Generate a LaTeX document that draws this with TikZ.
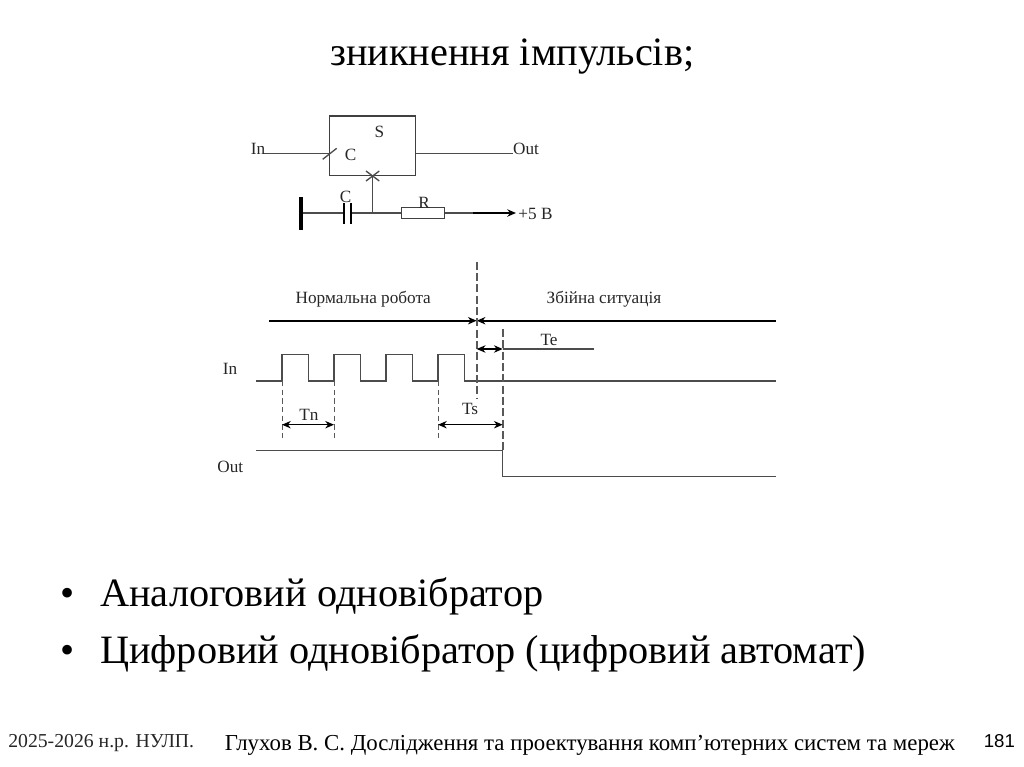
\documentclass[tikz,border=0pt]{standalone}
\usepackage{fontspec}
\usetikzlibrary{arrows.meta}
\setmainfont{Liberation Serif}
\newfontfamily\numfont{Liberation Sans}
\tikzset{
  head/.tip={Stealth[length=6.5pt,width=5.5pt,inset=2pt]},
  wire/.style={draw=black!70, line width=1pt},
  heavy/.style={draw=black, line width=1.4pt},
  guide/.style={draw=black!65, line width=1.2pt, dash pattern=on 6pt off 2.5pt},
  span/.style={draw=black, line width=1.1pt, head-head},
  lbl/.style={inner sep=0pt, font=\fontsize{12.9pt}{14pt}\selectfont, text=black!85},
  big/.style={inner sep=0pt, anchor=base west, font=\fontsize{30.2pt}{33pt}\selectfont},
  foot/.style={inner sep=0pt, anchor=base west, font=\fontsize{17.13pt}{19pt}\selectfont}
}
\begin{document}
\begin{tikzpicture}[x=0.75pt,y=-0.75pt]
  \useasboundingbox (0,0) rectangle (1024,767);
  % slide text
  \node[big] (title) at (330,65.5) {зникнення імпульсів;};
  \node[big] (b1) at (60,606) {•};
  \node[big] (item1) at (100,606) {Аналоговий одновібратор};
  \node[big] (b2) at (60,663.5) {•};
  \node[big] (item2) at (100,663.5) {Цифровий одновібратор (цифровий автомат)};
  \node[foot, font=\fontsize{14.8pt}{16pt}\selectfont, text=black!85] (year) at (8,747) {2025-2026 н.р. НУЛП.};
  \node[foot] (course) at (224.5,750) {Глухов В. С. Дослідження та проектування комп’ютерних систем та мереж};
  \node[foot, font=\numfont\fontsize{14pt}{16pt}\selectfont] (page) at (983.5,747) {181};
  % circuit
  \node[draw=black!75, line width=1pt, minimum width=64.65pt, minimum height=44.5pt, inner sep=0pt] (S) at (372.7,145.7) {};
  \node[draw=black!75, line width=0.8pt, minimum width=32pt, minimum height=8pt, inner sep=0pt] (R) at (422.8,213) {};
  \draw
    (263,153.7) coordinate (inA)
    (329.5,153.7) coordinate (inB)
    (415.7,153.7) coordinate (outA)
    (513,153.7) coordinate (outB)
    (322.7,159.3) coordinate (tickA)
    (336.7,148.3) coordinate (tickB)
    (366,171) coordinate (xA)
    (379.3,181) coordinate (xB)
    (379.3,171) coordinate (xC)
    (366,181) coordinate (xD)
    (372.7,175.3) coordinate (setpin)
    (372.7,213) coordinate (junction)
    (301,213) coordinate (gnd)
    (301,197.3) coordinate (gndA)
    (301,230) coordinate (gndB)
    (343.7,213) coordinate (capL)
    (351,213) coordinate (capR)
    (343.7,203) coordinate (capLa)
    (343.7,224.3) coordinate (capLb)
    (351,203) coordinate (capRa)
    (351,224.3) coordinate (capRb)
    (473,213) coordinate (supA)
    (516,213) coordinate (supB);
  \begin{scope}[wire]
    \draw (inA) to (inB);
    \draw (outA) to (outB);
    \draw (tickA) to (tickB);
    \draw (xA) to (xB);
    \draw (xC) to (xD);
    \draw (setpin) to (junction);
    \draw (gnd) to (capL);
    \draw (capR) to (R.west);
    \draw (R.east) to (supA);
  \end{scope}
  \draw[black, line width=2.6pt] (gndA) to (gndB);
  \draw[black, line width=1.5pt] (capLa) to (capLb);
  \draw[black, line width=1.5pt] (capRa) to (capRb);
  \draw[heavy, -head] (supA) to (supB);
  \node[lbl] (lIn) at (258,149) {In};
  \node[lbl] (lOut) at (526,149) {Out};
  \node[lbl] (lS) at (379.5,132) {S};
  \node[lbl] (lC) at (350.7,154.5) {C};
  \node[lbl] (lC2) at (345.7,197) {C};
  \node[lbl] (lR) at (424,203) {R};
  \node[lbl] (lV) at (535.5,214) {+5 В};
  % timing
  \draw
    (269.3,320.7) coordinate (modeA)
    (476.7,320.7) coordinate (modeB)
    (776,320.7) coordinate (modeC)
    (476.7,261.7) coordinate (gA)
    (476.7,398) coordinate (gB)
    (502.7,329) coordinate (eA)
    (502.7,450.3) coordinate (eB)
    (476.7,349) coordinate (teA)
    (502.7,349) coordinate (teB)
    (594,349) coordinate (teC)
    (256,381) coordinate (w0)
    (282,381) coordinate (w1)
    (282,354.7) coordinate (w2)
    (308.3,354.7) coordinate (w3)
    (308.3,381) coordinate (w4)
    (334,381) coordinate (w5)
    (334,354.7) coordinate (w6)
    (360.3,354.7) coordinate (w7)
    (360.3,381) coordinate (w8)
    (386,381) coordinate (w9)
    (386,354.7) coordinate (w10)
    (412.3,354.7) coordinate (w11)
    (412.3,381) coordinate (w12)
    (438,381) coordinate (w13)
    (438,354.7) coordinate (w14)
    (464.3,354.7) coordinate (w15)
    (464.3,381) coordinate (w16)
    (776,381) coordinate (w17)
    (282,437.7) coordinate (d1)
    (334,437.7) coordinate (d2)
    (438,437.7) coordinate (d3)
    (282,424.7) coordinate (tnA)
    (334,424.7) coordinate (tnB)
    (438,424.7) coordinate (tsA)
    (502.7,424.7) coordinate (tsB)
    (256,450.3) coordinate (o0)
    (502.7,476.3) coordinate (o1)
    (776,476.3) coordinate (o2);
  \draw[heavy, -head] (modeA) to (modeB);
  \draw[heavy, -head] (modeC) to (modeB);
  \draw[wire] (w0) -- (w1) -- (w2) -- (w3) -- (w4) -- (w5) -- (w6) -- (w7) -- (w8) -- (w9)
    -- (w10) -- (w11) -- (w12) -- (w13) -- (w14) -- (w15) -- (w16) -- (w17);
  \draw[wire] (o0) -- (eB) -- (o1) -- (o2);
  \begin{scope}[guide]
    \draw (gA) to (gB);
    \draw (eA) to (eB);
    \draw[line width=0.7pt, dash pattern=on 4pt off 2.5pt] (w1) to (d1);
    \draw[line width=0.7pt, dash pattern=on 4pt off 2.5pt] (w5) to (d2);
    \draw[line width=0.7pt, dash pattern=on 4pt off 2.5pt] (w13) to (d3);
  \end{scope}
  \draw[span] (teA) to (teB);
  \draw[wire] (teB) to (teC);
  \draw[span] (tnA) to (tnB);
  \draw[span] (tsA) to (tsB);
  \node[lbl] (normal) at (363.3,298.7) {Нормальна робота};
  \node[lbl] (fault) at (604,298.7) {Збійна ситуація};
  \node[lbl] (lTe) at (549,339.7) {Te};
  \node[lbl] (lTn) at (309,415) {Tn};
  \node[lbl] (lTs) at (470,409) {Ts};
  \node[lbl] (tIn) at (230,369) {In};
  \node[lbl] (tOut) at (230.3,467) {Out};
\end{tikzpicture}
\end{document}
